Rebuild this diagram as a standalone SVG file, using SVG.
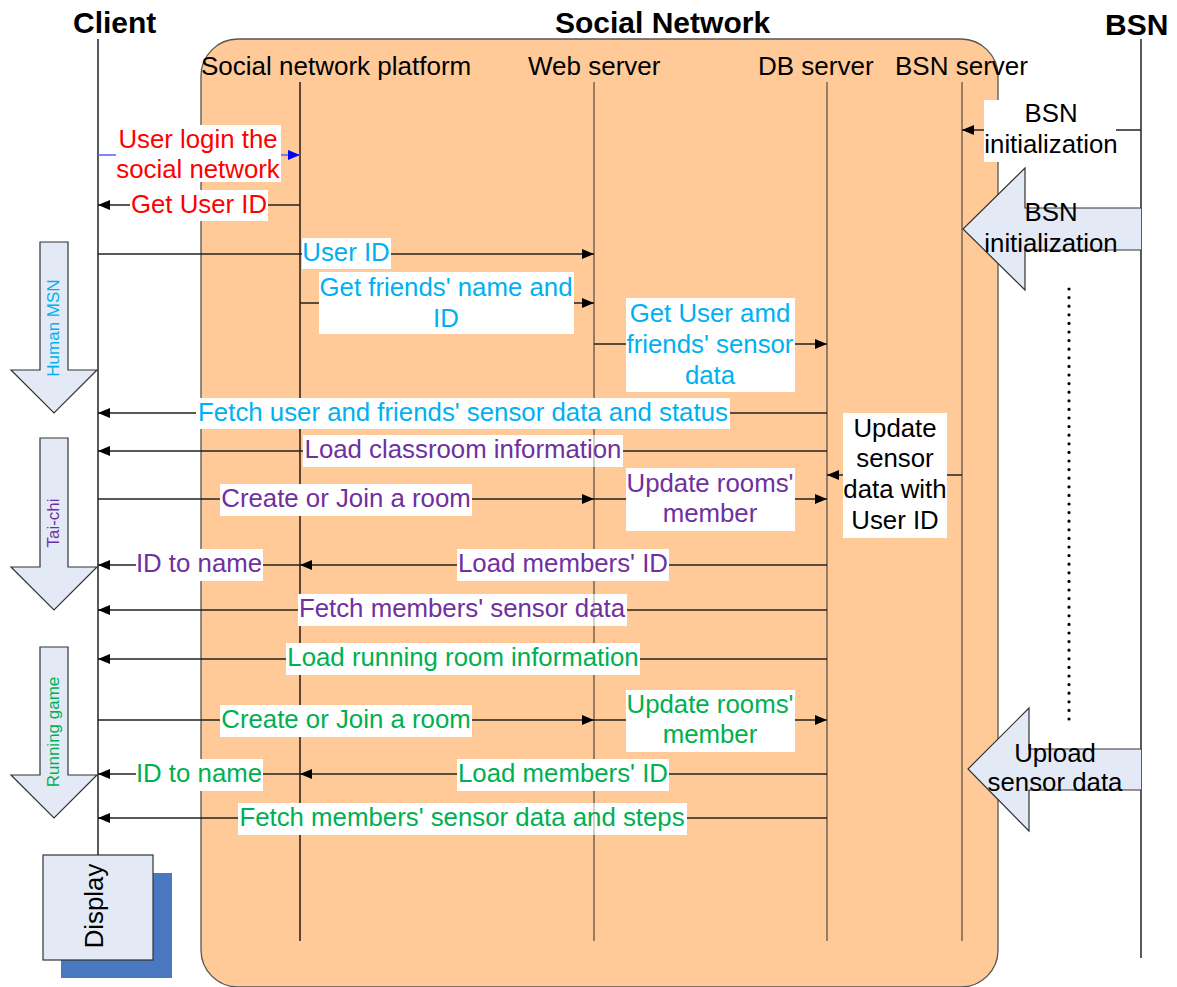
<svg xmlns="http://www.w3.org/2000/svg" width="1177" height="987" viewBox="0 0 1177 987">
  <style>
    text { font-family: "Liberation Sans", Arial, sans-serif; }
    .title { font-size: 30px; font-weight: bold; fill: #000; }
    .hdr { font-size: 26px; fill: #000; }
    .lbl { font-size: 25.8px; text-anchor: middle; }
    .phase { font-size: 17px; text-anchor: middle; }
    .bg { fill: #fff; }
    .msg { stroke: #222; stroke-width: 1.3; fill: none; }
    .life { stroke: #000; stroke-width: 1.3; }
    .life-in { stroke: #7a6a58; stroke-width: 1.6; }
    .block { fill: #E3EAF6; stroke: #333; stroke-width: 1.2; }
    .red { fill: #FF0000; }
    .cyan { fill: #00B0F0; }
    .purple { fill: #7030A0; }
    .green { fill: #00B050; }
    .black { fill: #000; }
  </style>
  <defs>
    <marker id="ah" markerUnits="userSpaceOnUse" markerWidth="12" markerHeight="10" refX="12" refY="5" orient="auto">
      <path d="M0,0 L12,5 L0,10 z" fill="#000"/>
    </marker>
    <marker id="ah-blue" markerUnits="userSpaceOnUse" markerWidth="12" markerHeight="10" refX="12" refY="5" orient="auto">
      <path d="M0,0 L12,5 L0,10 z" fill="#0000FF"/>
    </marker>
  </defs>

  <rect width="1177" height="987" fill="#fff"/>

  <!-- Social network container -->
  <g id="social-network">
    <rect x="201" y="39" width="797" height="948" rx="37" ry="37" fill="#FFCA98" stroke="#555" stroke-width="1.3"/>
    <text class="title" x="555" y="33">Social Network</text>
  </g>

  <!-- Lifelines -->
  <g id="client">
    <text class="title" x="73" y="33">Client</text>
    <line class="life" x1="98" y1="39" x2="98" y2="855"/>
  </g>
  <g id="platform">
    <text class="hdr" x="201" y="75">Social network platform</text>
    <line class="life" x1="300" y1="82" x2="300" y2="941"/>
  </g>
  <g id="web-server">
    <text class="hdr" x="528" y="75">Web server</text>
    <line class="life-in" x1="594" y1="82" x2="594" y2="941"/>
  </g>
  <g id="db-server">
    <text class="hdr" x="758" y="75">DB server</text>
    <line class="life-in" x1="827" y1="82" x2="827" y2="941"/>
  </g>
  <g id="bsn-server">
    <text class="hdr" x="895" y="75">BSN server</text>
    <line class="life-in" x1="962" y1="82" x2="962" y2="941"/>
  </g>
  <g id="bsn">
    <text class="title" x="1105" y="35">BSN</text>
    <line class="life" x1="1141" y1="39" x2="1141" y2="958"/>
    <line x1="1069" y1="289" x2="1069" y2="722" stroke="#000" stroke-width="3.2" stroke-linecap="round" stroke-dasharray="0 8.6"/>
  </g>

  <!-- Phase arrows on the client side -->
  <g id="phase-human-msn">
    <path class="block" d="M40,242 H68 V370 H97 L54,413 L11,370 H40 Z"/>
    <text class="phase cyan" transform="translate(59,328) rotate(-90)">Human MSN</text>
  </g>
  <g id="phase-tai-chi">
    <path class="block" d="M40,438 H68 V567 H97 L54,610 L11,567 H40 Z"/>
    <text class="phase purple" transform="translate(59,523) rotate(-90)">Tai-chi</text>
  </g>
  <g id="phase-running-game">
    <path class="block" d="M40,647 H68 V775 H97 L54,818 L11,775 H40 Z"/>
    <text class="phase green" transform="translate(59,732) rotate(-90)">Running game</text>
  </g>

  <!-- Display -->
  <g id="display">
    <rect x="61" y="873" width="111" height="105" fill="#4A78C0"/>
    <rect x="43" y="855" width="110" height="105" fill="#E3EAF6" stroke="#333" stroke-width="1.2"/>
    <text class="lbl black" transform="translate(103,906) rotate(-90)">Display</text>
  </g>

  <!-- Connectors -->
  <g id="connectors">
    <line x1="98" y1="155" x2="300" y2="155" stroke="#5B5BFF" stroke-width="1.4" marker-end="url(#ah-blue)"/>
    <line class="msg" x1="300" y1="205" x2="98" y2="205" marker-end="url(#ah)"/>
    <line class="msg" x1="98" y1="254" x2="594" y2="254" marker-end="url(#ah)"/>
    <line class="msg" x1="300" y1="303" x2="594" y2="303" marker-end="url(#ah)"/>
    <line class="msg" x1="594" y1="344" x2="827" y2="344" marker-end="url(#ah)"/>
    <line class="msg" x1="827" y1="413" x2="98" y2="413" marker-end="url(#ah)"/>
    <line class="msg" x1="827" y1="451" x2="98" y2="451" marker-end="url(#ah)"/>
    <line class="msg" x1="98" y1="499" x2="594" y2="499" marker-end="url(#ah)"/>
    <line class="msg" x1="594" y1="499" x2="827" y2="499" marker-end="url(#ah)"/>
    <line class="msg" x1="827" y1="565" x2="300" y2="565" marker-end="url(#ah)"/>
    <line class="msg" x1="300" y1="565" x2="98" y2="565" marker-end="url(#ah)"/>
    <line class="msg" x1="827" y1="610" x2="98" y2="610" marker-end="url(#ah)"/>
    <line class="msg" x1="827" y1="659" x2="98" y2="659" marker-end="url(#ah)"/>
    <line class="msg" x1="98" y1="720" x2="594" y2="720" marker-end="url(#ah)"/>
    <line class="msg" x1="594" y1="720" x2="827" y2="720" marker-end="url(#ah)"/>
    <line class="msg" x1="827" y1="774" x2="300" y2="774" marker-end="url(#ah)"/>
    <line class="msg" x1="300" y1="774" x2="98" y2="774" marker-end="url(#ah)"/>
    <line class="msg" x1="827" y1="818" x2="98" y2="818" marker-end="url(#ah)"/>
    <line class="msg" x1="962" y1="475" x2="827" y2="475" marker-end="url(#ah)"/>
    <line class="msg" x1="1141" y1="130" x2="962" y2="130" marker-end="url(#ah)"/>
    <!-- bulk transfers from the BSN -->
    <path class="block" d="M1141,208 H1025 V168 L963,229 L1025,290 V250 H1141"/>
    <path class="block" d="M1141,749 H1029 V708 L968,769 L1029,831 V790 H1141"/>
  </g>

  <!-- Message labels -->
  <g id="labels">
    <rect class="bg" x="116" y="125" width="165" height="57"/>
    <text class="lbl red" x="198" y="148">User login the</text>
    <text class="lbl red" x="198" y="178">social network</text>

    <rect class="bg" x="130" y="190" width="138" height="31"/>
    <text class="lbl red" x="199" y="213">Get User ID</text>

    <rect class="bg" x="302" y="238" width="89" height="31"/>
    <text class="lbl cyan" x="346" y="261">User ID</text>

    <rect class="bg" x="319" y="272" width="255" height="62"/>
    <text class="lbl cyan" x="446" y="296">Get friends' name and</text>
    <text class="lbl cyan" x="446" y="327">ID</text>

    <rect class="bg" x="626" y="298" width="169" height="94"/>
    <text class="lbl cyan" x="710" y="322">Get User amd</text>
    <text class="lbl cyan" x="710" y="353">friends' sensor</text>
    <text class="lbl cyan" x="710" y="384">data</text>

    <rect class="bg" x="196" y="398" width="534" height="31"/>
    <text class="lbl cyan" x="463" y="421">Fetch user and friends' sensor data and status</text>

    <rect class="bg" x="303" y="435" width="320" height="32"/>
    <text class="lbl purple" x="463" y="458">Load classroom information</text>

    <rect class="bg" x="220" y="484" width="252" height="32"/>
    <text class="lbl purple" x="346" y="507">Create or Join a room</text>

    <rect class="bg" x="626" y="468" width="169" height="63"/>
    <text class="lbl purple" x="710" y="492">Update rooms'</text>
    <text class="lbl purple" x="710" y="522">member</text>

    <rect class="bg" x="136" y="549" width="127" height="32"/>
    <text class="lbl purple" x="199" y="572">ID to name</text>

    <rect class="bg" x="457" y="549" width="212" height="32"/>
    <text class="lbl purple" x="563" y="572">Load members' ID</text>

    <rect class="bg" x="298" y="594" width="329" height="32"/>
    <text class="lbl purple" x="462" y="617">Fetch members' sensor data</text>

    <rect class="bg" x="286" y="643" width="354" height="32"/>
    <text class="lbl green" x="463" y="666">Load running room information</text>

    <rect class="bg" x="220" y="705" width="252" height="32"/>
    <text class="lbl green" x="346" y="728">Create or Join a room</text>

    <rect class="bg" x="626" y="690" width="169" height="62"/>
    <text class="lbl green" x="710" y="713">Update rooms'</text>
    <text class="lbl green" x="710" y="743">member</text>

    <rect class="bg" x="136" y="759" width="127" height="32"/>
    <text class="lbl green" x="199" y="782">ID to name</text>

    <rect class="bg" x="457" y="759" width="212" height="32"/>
    <text class="lbl green" x="563" y="782">Load members' ID</text>

    <rect class="bg" x="238" y="803" width="449" height="32"/>
    <text class="lbl green" x="462" y="826">Fetch members' sensor data and steps</text>

    <rect class="bg" x="843" y="413" width="104" height="125"/>
    <text class="lbl black" x="895" y="437">Update</text>
    <text class="lbl black" x="895" y="467">sensor</text>
    <text class="lbl black" x="895" y="498">data with</text>
    <text class="lbl black" x="895" y="529">User ID</text>

    <rect class="bg" x="984" y="100" width="132" height="62"/>
    <text class="lbl black" x="1051" y="122">BSN</text>
    <text class="lbl black" x="1051" y="153">initialization</text>

    <text class="lbl black" x="1051" y="221">BSN</text>
    <text class="lbl black" x="1051" y="252">initialization</text>

    <text class="lbl black" x="1055" y="762">Upload</text>
    <text class="lbl black" x="1055" y="791">sensor data</text>
  </g>

  <!-- Web server lifeline showing faintly through the labels it crosses -->
  <g id="web-server-overlay" stroke="#7a6a58" stroke-width="1.4" opacity="0.45">
    <line x1="594" y1="435" x2="594" y2="467"/>
    <line x1="594" y1="594" x2="594" y2="626"/>
    <line x1="594" y1="803" x2="594" y2="835"/>
  </g>
</svg>
